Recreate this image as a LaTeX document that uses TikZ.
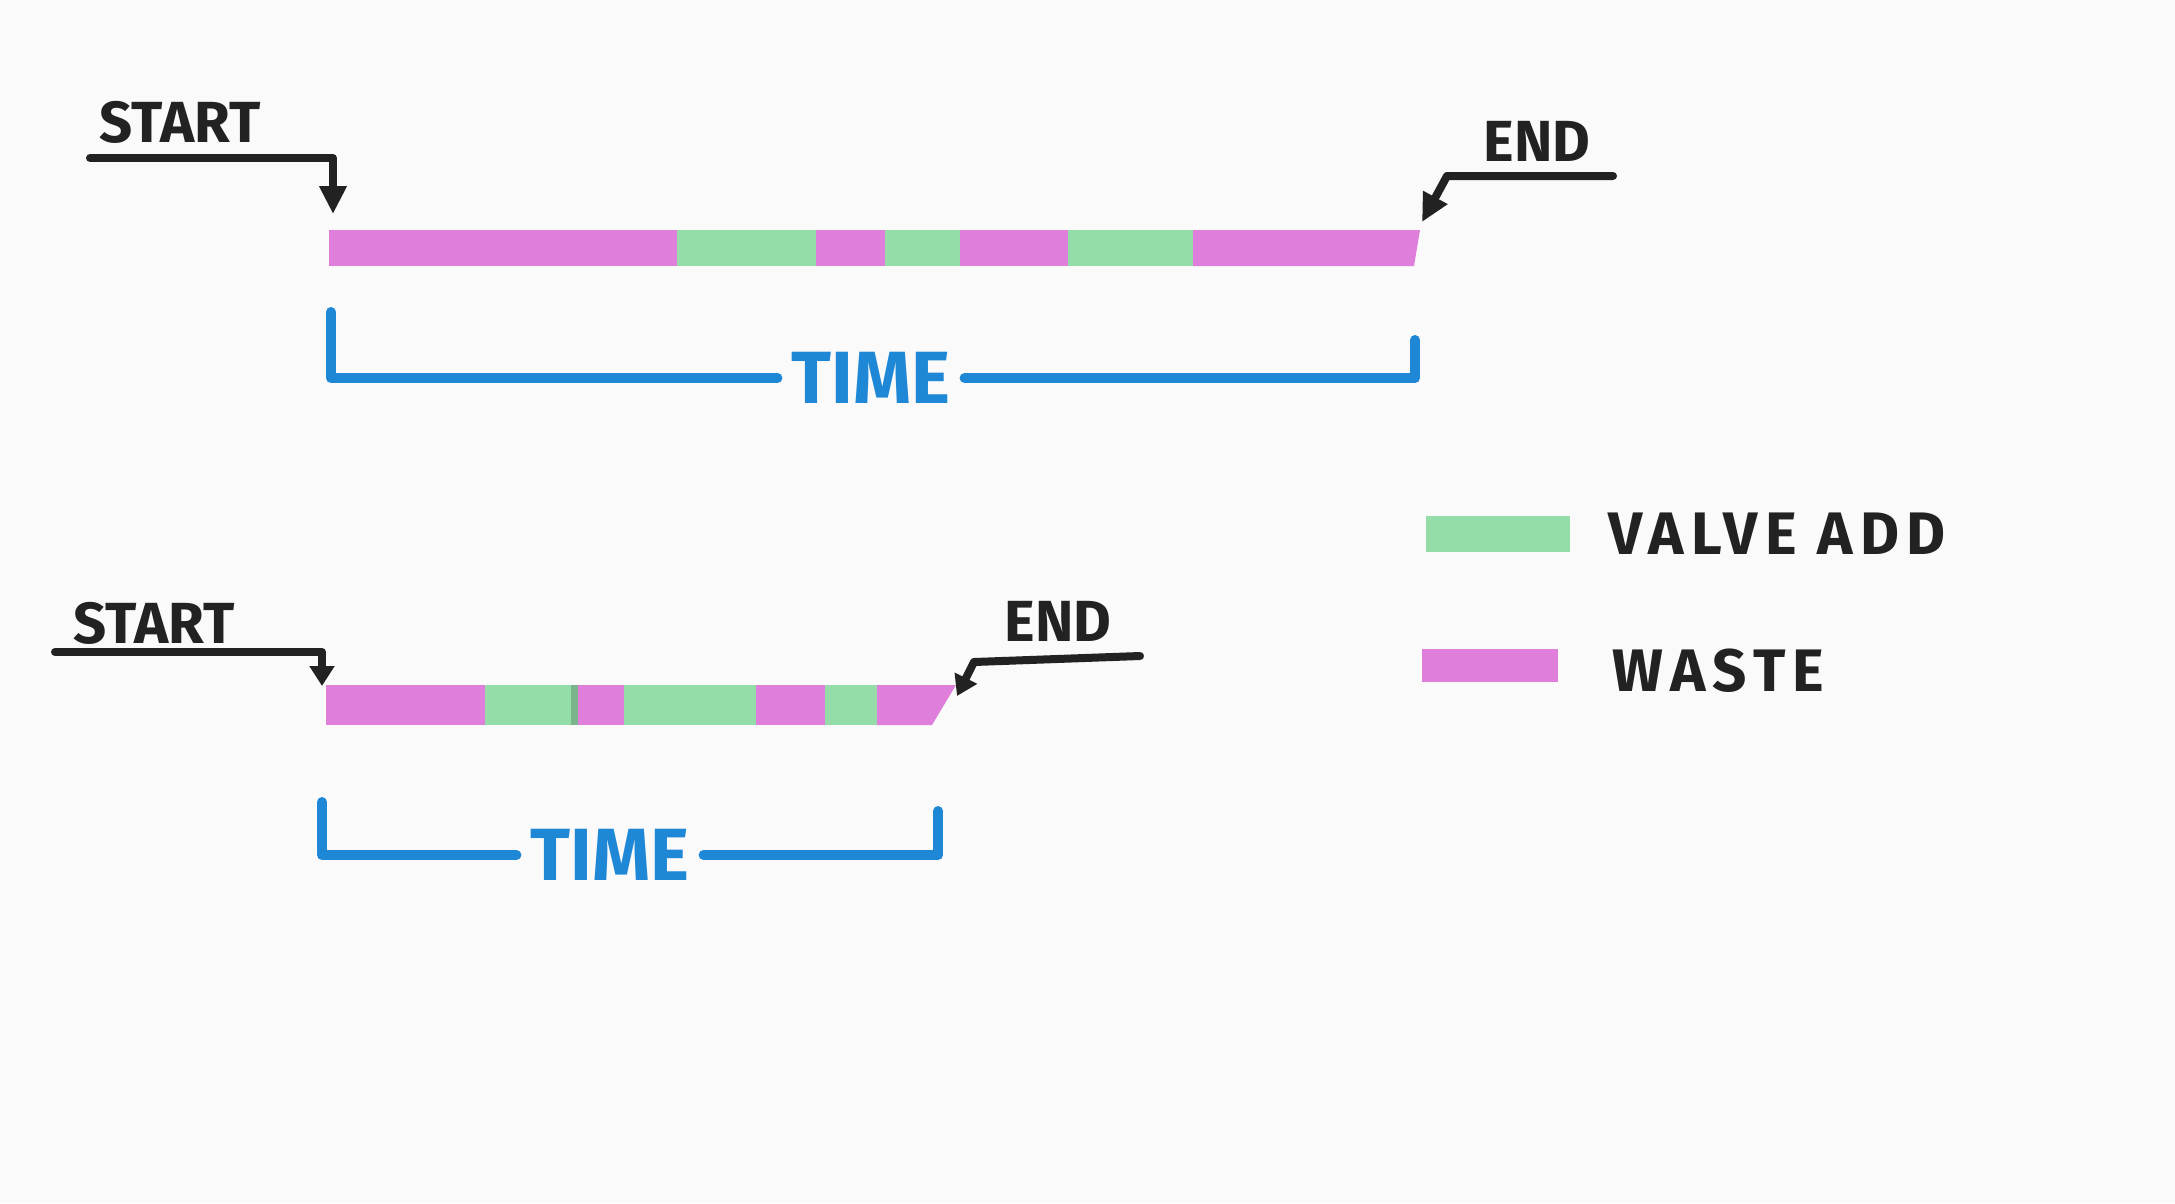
\documentclass[tikz,border=0pt]{standalone}
\usepackage{fontspec}
\setmainfont{Fira Sans}
\usetikzlibrary{arrows.meta}
\definecolor{waste}{HTML}{E07FDB}
\definecolor{vadd}{HTML}{94DCA8}
\definecolor{timeblue}{HTML}{1F88D6}
\definecolor{ink}{HTML}{222222}
\definecolor{paper}{HTML}{FAFAFA}
\tikzset{
  lbl/.style={text=ink, font=\bfseries\fontsize{58}{58}\selectfont, inner sep=0pt},
  widelbl/.style={lbl, font=\bfseries\fontsize{60}{60}\selectfont\addfontfeatures{LetterSpace=12}},
  timelbl/.style={text=timeblue, font=\bfseries\fontsize{74}{74}\selectfont, inner sep=0pt},
  pointer/.style={draw=ink, line width=8pt, line join=round, line cap=round, -{Triangle[length=28pt,width=26pt]}},
  shortpointer/.style={pointer, -{Triangle[length=20pt,width=24pt]}},
  bracket/.style={draw=timeblue, line width=10pt, line join=round, line cap=round},
  wasteseg/.style={fill=waste},
  vaseg/.style={fill=vadd},
}
\begin{document}
\begin{tikzpicture}[x=1pt,y=-1pt]
\fill[paper] (0,0) rectangle (2175,1203);
\useasboundingbox (0,0) rectangle (2175,1203);

% ---------- top bar ----------
\fill[wasteseg] (329,230) rectangle (677,266);
\fill[vaseg]    (677,230) rectangle (816,266);
\fill[wasteseg] (816,230) rectangle (885,266);
\fill[vaseg]    (885,230) rectangle (960,266);
\fill[wasteseg] (960,230) rectangle (1068,266);
\fill[vaseg]    (1068,230) rectangle (1193,266);
\fill[wasteseg] (1193,230) -- (1420,230) -- (1414,266) -- (1193,266) -- cycle;
\coordinate (b1s) at (333,214);
\coordinate (b1e) at (1422,222);

\node[lbl] (start1) at (180,122) {START};
\coordinate (s1) at (90,158);
\draw[pointer] (s1) -| (b1s);

\node[lbl] (end1) at (1537,141) {END};
\coordinate (e1) at (1613,176);
\draw[pointer] (e1) -- ++(-166,0) -- (b1e);

\node[timelbl] (time1) at (871,378) {TIME};
\coordinate (tl1) at (331,312);
\coordinate (tr1) at (1415,340);
\draw[bracket] (tl1) |- ([xshift=-14pt]time1.west);
\draw[bracket] ([xshift=14pt]time1.east) -| (tr1);

% ---------- bottom bar ----------
\fill[wasteseg] (326,685) rectangle (485,725);
\fill[vaseg]    (485,685) rectangle (571,725);
\fill[vadd!70!black!60!vadd] (571,685) rectangle (578,725);
\fill[wasteseg] (578,685) rectangle (624,725);
\fill[vaseg]    (624,685) rectangle (756,725);
\fill[wasteseg] (756,685) rectangle (825,725);
\fill[vaseg]    (825,685) rectangle (877,725);
\fill[wasteseg] (877,685) -- (956,685) -- (932,725) -- (877,725) -- cycle;
\coordinate (b2s) at (322,686);
\coordinate (b2e) at (957,696);

\node[lbl] (start2) at (154,623) {START};
\coordinate (s2) at (55,652);
\draw[shortpointer] (s2) -| (b2s);

\node[lbl] (end2) at (1058,621) {END};
\coordinate (e2) at (1140,656);
\draw[shortpointer] (e2) -- (974,662) -- (b2e);

\node[timelbl] (time2) at (610,855) {TIME};
\coordinate (tl2) at (322,802);
\coordinate (tr2) at (938,811);
\draw[bracket] (tl2) |- ([xshift=-14pt]time2.west);
\draw[bracket] ([xshift=14pt]time2.east) -| (tr2);

% ---------- legend ----------
\fill[vaseg] (1426,516) rectangle (1570,552);
\node[widelbl, anchor=west] (valadd) at (1608,534) {VALVE ADD};
\fill[wasteseg] (1422,649) rectangle (1558,682);
\node[widelbl, anchor=west] (waste) at (1612,671) {WASTE};
\end{tikzpicture}
\end{document}
